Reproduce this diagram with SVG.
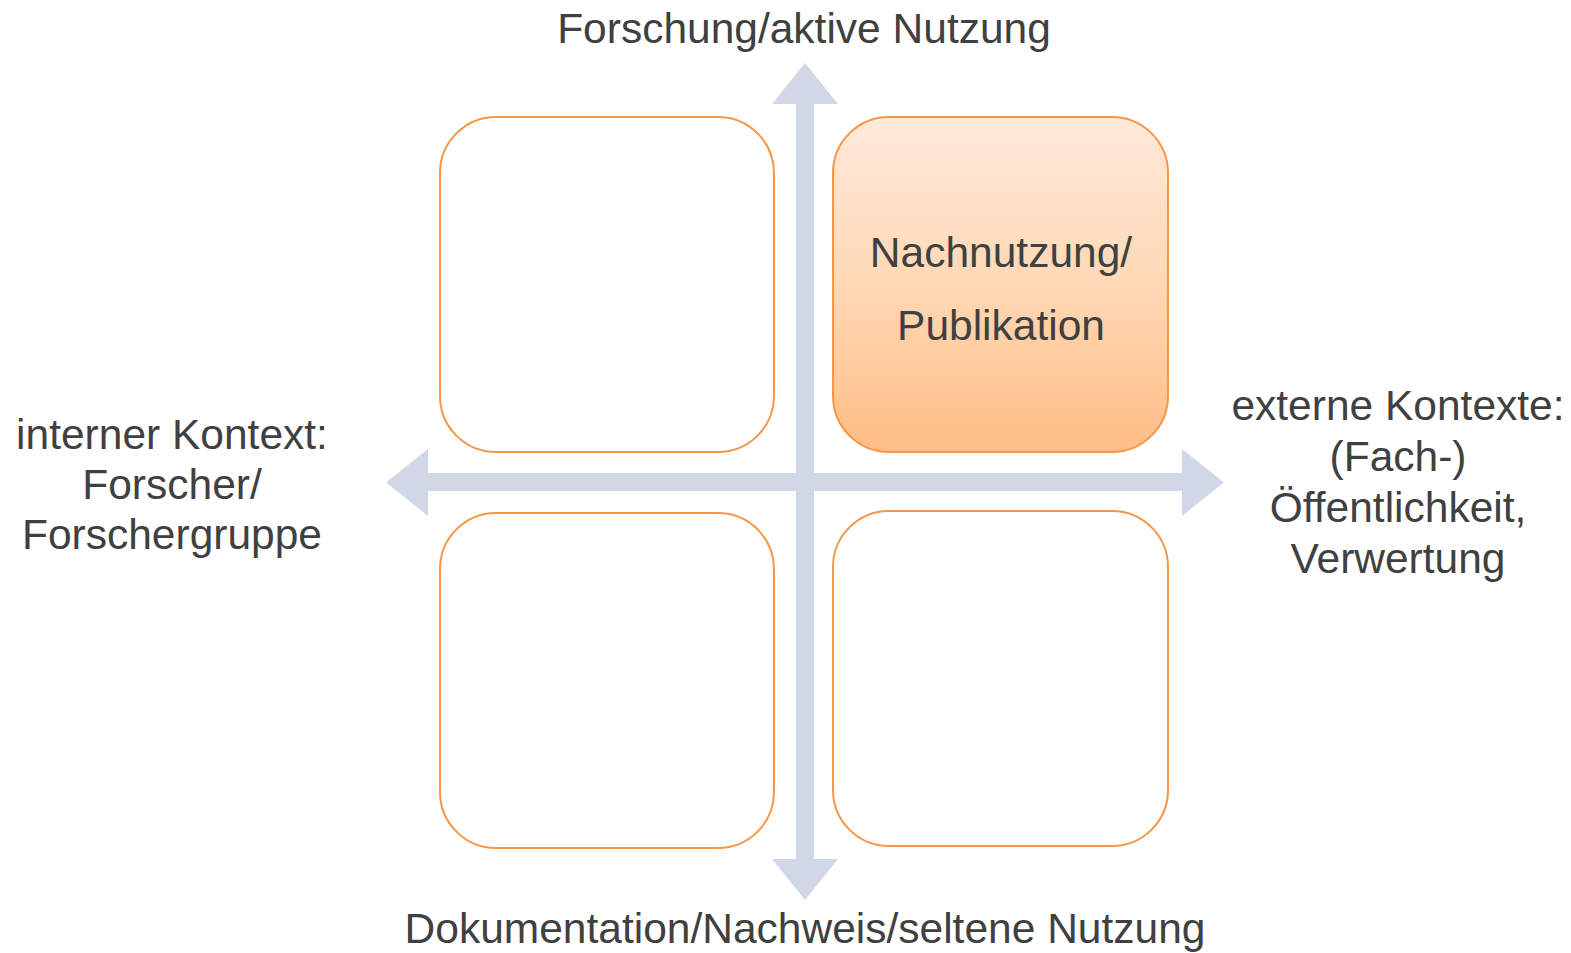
<svg xmlns="http://www.w3.org/2000/svg" width="1571" height="953" viewBox="0 0 1571 953">
<style>
.box{fill:#FFFFFF;stroke:#F79646;stroke-width:2}
.hot{fill:url(#og);stroke:#F79646;stroke-width:2}
.arr{fill:#D0D8E8}
text{font-family:"Liberation Sans",Arial,sans-serif;font-size:42.5px;fill:#404040;text-anchor:middle}
</style>
<defs>
<linearGradient id="og" x1="0" y1="0" x2="0" y2="1">
<stop offset="0" stop-color="#FFEADB"/>
<stop offset="0.5" stop-color="#FFD8B5"/>
<stop offset="1" stop-color="#FFBD85"/>
</linearGradient>
</defs>
<rect width="1571" height="953" fill="#FFFFFF"/>
<g id="connectors">
<polygon class="arr" points="805,63 838,104 814,104 814,859 838,859 805,900 772,859 796,859 796,104 772,104"/>
<polygon class="arr" points="386,482.5 428,449 428,473 1182,473 1182,449 1224,482.5 1182,516 1182,491 428,491 428,516"/>
</g>
<g id="node-top-left"><rect class="box" x="440" y="117" width="334" height="335" rx="56" ry="56"/></g>
<g id="node-top-right"><rect class="hot" x="833" y="117" width="335" height="335" rx="56" ry="56"/>
<text x="1001" y="267">Nachnutzung/</text>
<text x="1001" y="340">Publikation</text></g>
<g id="node-bottom-left"><rect class="box" x="440" y="513" width="334" height="335" rx="56" ry="56"/></g>
<g id="node-bottom-right"><rect class="box" x="833" y="511" width="335" height="335" rx="56" ry="56"/></g>
<g id="label-top"><text x="804" y="43">Forschung/aktive Nutzung</text></g>
<g id="label-bottom"><text x="805" y="943">Dokumentation/Nachweis/seltene Nutzung</text></g>
<g id="label-left"><text x="172" y="449">interner Kontext:</text>
<text x="172" y="499">Forscher/</text>
<text x="172" y="549">Forschergruppe</text></g>
<g id="label-right"><text x="1398" y="420">externe Kontexte:</text>
<text x="1398" y="471">(Fach-)</text>
<text x="1398" y="522">Öffentlichkeit,</text>
<text x="1398" y="573">Verwertung</text></g>
</svg>
